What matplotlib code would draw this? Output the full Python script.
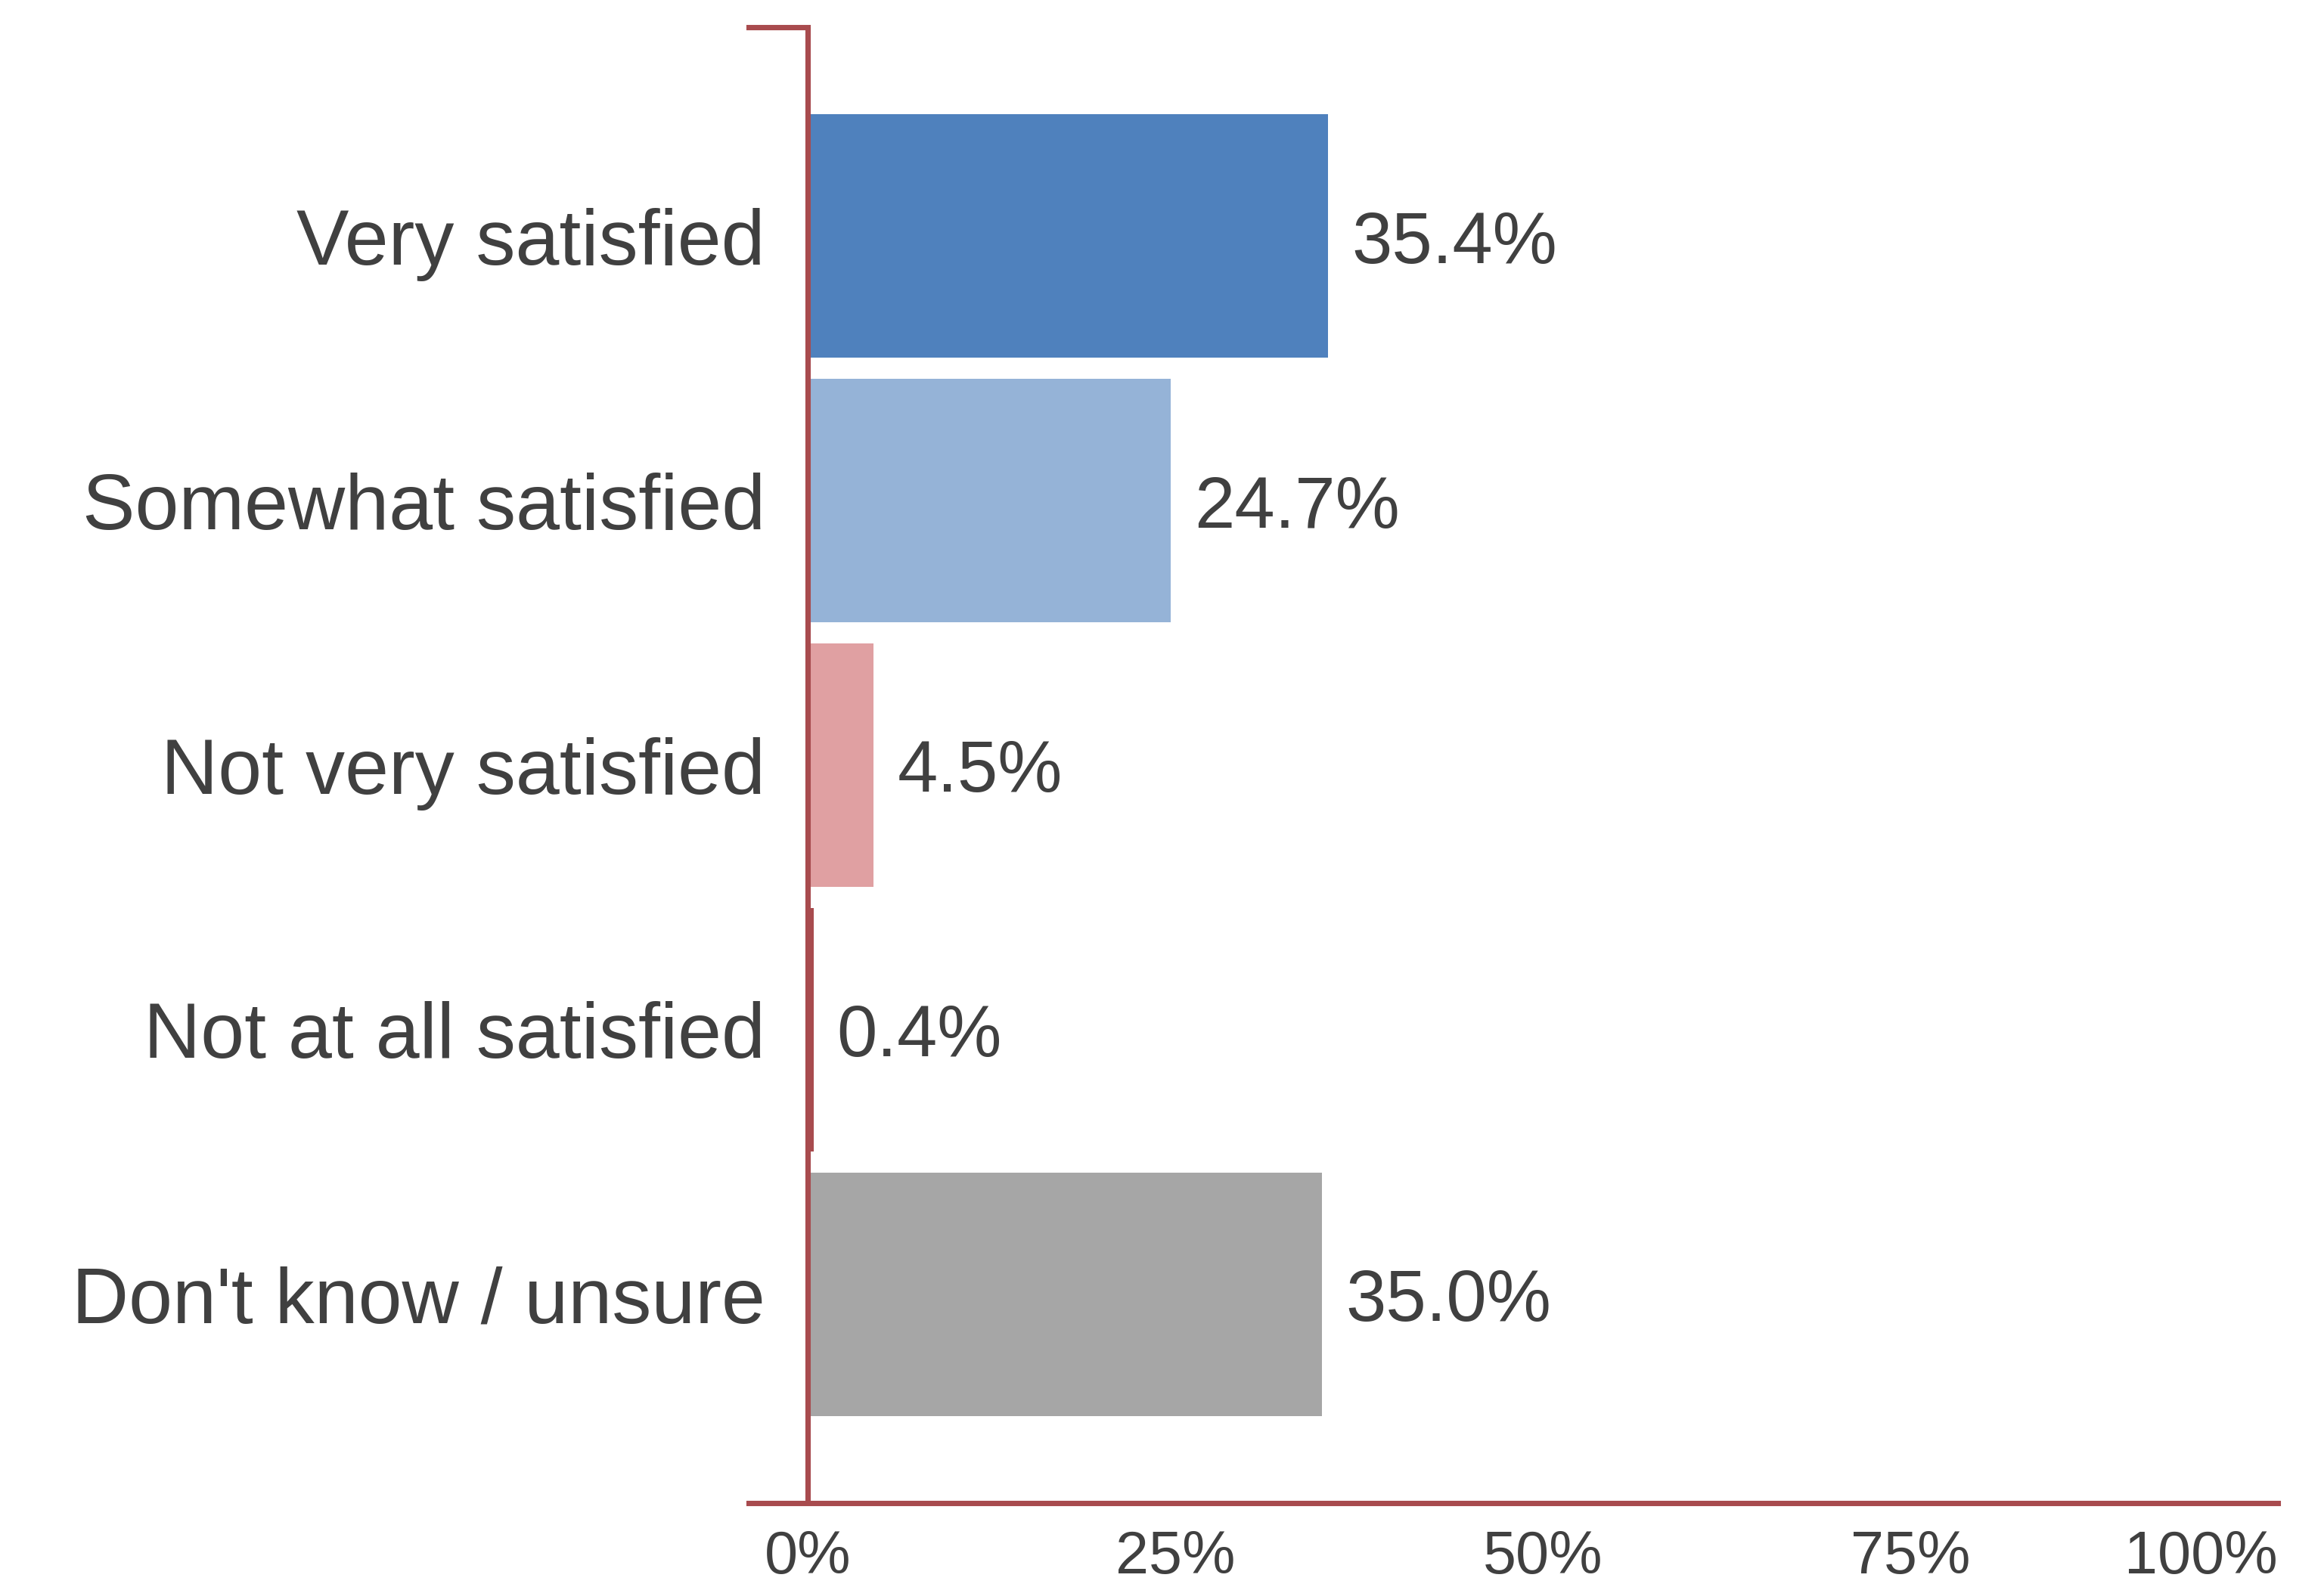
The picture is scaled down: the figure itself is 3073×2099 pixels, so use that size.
import matplotlib
matplotlib.use('Agg')
import matplotlib.pyplot as plt
import matplotlib.transforms as mtransforms

# survey answers and shares (%)
categories = ['Very satisfied', 'Somewhat satisfied', 'Not very satisfied',
              'Not at all satisfied', "Don't know / unsure"]
values = [35.4, 24.7, 4.5, 0.4, 35.0]
colors = ['#4f81bd', '#95b3d7', '#e0a0a2', '#a84b4e', '#a6a6a6']
xticks = [0, 25, 50, 75, 100]
xticklabels = ['0%', '25%', '50%', '75%', '100%']

axis_red = '#a84b4e'
text_grey = '#404040'

plt.rcParams['font.family'] = ['Liberation Sans', 'DejaVu Sans']

fig = plt.figure(figsize=(3073 / 300, 2099 / 300), dpi=300)
ax = fig.add_axes([990 / 3073, 1 - 1988 / 2099, (3012 - 990) / 3073, (1988 - 36) / 2099])

pos = list(range(len(categories)))
ax.barh(pos, values, height=0.92, color=colors, zorder=2)

for y, v in zip(pos, values):
    ax.text(v + 1.6, y + 0.03, f'{v:.1f}%', va='center', ha='left',
            fontsize=23, color=text_grey)

ax.set_xlim(-4, 100)
ax.set_ylim(4.79, -0.79)

# vertical axis line at 0 with a short cap at the top
ax.axvline(0, color=axis_red, lw=1.7, zorder=3)
ax.plot([-4, 0], [-0.79, -0.79], color=axis_red, lw=1.7, clip_on=False, zorder=3)

for s in ['left', 'right', 'top']:
    ax.spines[s].set_visible(False)
ax.spines['bottom'].set_color(axis_red)
ax.spines['bottom'].set_linewidth(1.7)

ax.set_xticks(xticks)
ax.set_xticklabels(xticklabels, fontsize=19, color=text_grey)
ax.get_xticklabels()[-1].set_ha('right')
ax.tick_params(axis='x', length=0, pad=8.5)

ax.set_yticks(pos)
ax.set_yticklabels(categories, fontsize=25, color=text_grey)
ax.tick_params(axis='y', length=0, pad=0)

# move the category labels a little to the right, close to the 0 line
offset = mtransforms.ScaledTranslation(22 / 300, 0, fig.dpi_scale_trans)
for lbl in ax.get_yticklabels():
    lbl.set_transform(lbl.get_transform() + offset)

fig.savefig('out.png', dpi=300, facecolor='white')
